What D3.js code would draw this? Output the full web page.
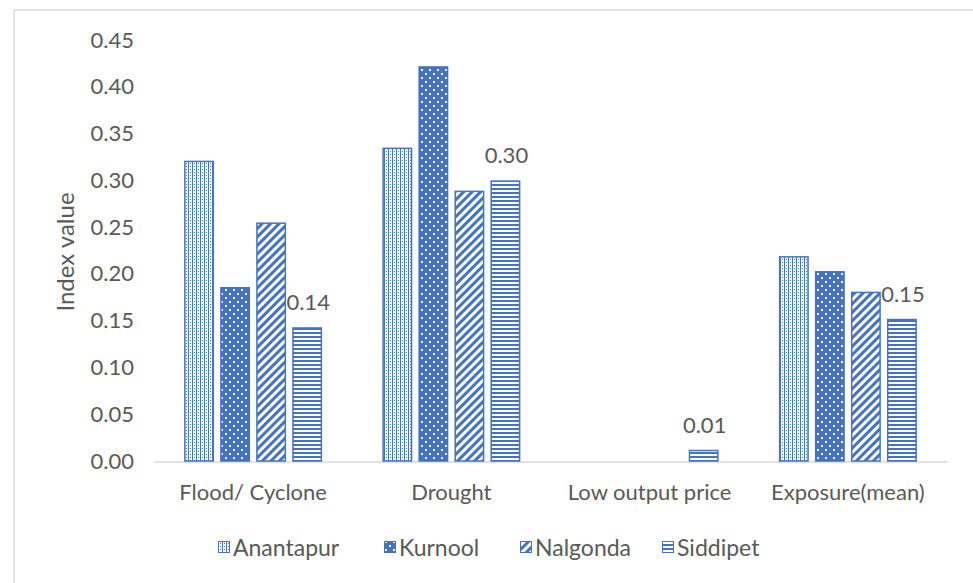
<!DOCTYPE html>
<html>
<head>
<meta charset="utf-8">
<script src="https://cdn.jsdelivr.net/npm/d3@7"></script>
<style>
  html, body { margin: 0; padding: 0; background: #fff; }
  svg { display: block; font-family: Lato, "Open Sans", sans-serif; }
</style>
</head>
<body>
<div id="chart"></div>
<script>
const categories = ["Flood/ Cyclone", "Drought", "Low output price", "Exposure(mean)"];
const seriesNames = ["Anantapur", "Kurnool", "Nalgonda", "Siddipet"];
const anantapur = [0.321, 0.335, 0, 0.219];
const kurnool   = [0.186, 0.422, 0, 0.203];
const nalgonda  = [0.255, 0.289, 0, 0.181];
const siddipet  = [0.143, 0.300, 0.012, 0.152];
const yTicks = [0, 0.05, 0.10, 0.15, 0.20, 0.25, 0.30, 0.35, 0.40, 0.45];
const labelledSeries = "Siddipet";

const seriesValues = [anantapur, kurnool, nalgonda, siddipet];
const W = 973, H = 583;
const blue = "#4472C4";
const textColor = "#595959";
const fontFam = "Lato, 'Open Sans', sans-serif";

const svg = d3.select("#chart").append("svg").attr("width", W).attr("height", H);

// outer chart border
svg.append("rect").attr("x", 14).attr("y", 10).attr("width", 970).attr("height", 600)
  .attr("fill", "none").attr("stroke", "#d9d9d9").attr("stroke-width", 1.5);

const defs = svg.append("defs");
// Anantapur: dotted grid (light)
const p0 = defs.append("pattern").attr("id", "pat0").attr("patternUnits", "userSpaceOnUse")
  .attr("width", 4).attr("height", 3);
p0.append("rect").attr("width", 4).attr("height", 3).attr("fill", "#fff");
p0.append("rect").attr("x", 0).attr("y", 0).attr("width", 1).attr("height", 3).attr("fill", blue);
p0.append("rect").attr("x", 2).attr("y", 1).attr("width", 1).attr("height", 1).attr("fill", blue);
// Kurnool: blue with white dots
const p1 = defs.append("pattern").attr("id", "pat1").attr("patternUnits", "userSpaceOnUse")
  .attr("width", 8).attr("height", 8);
p1.append("rect").attr("width", 8).attr("height", 8).attr("fill", blue);
p1.append("rect").attr("x", 1).attr("y", 1).attr("width", 2).attr("height", 2).attr("fill", "#fff");
p1.append("rect").attr("x", 5).attr("y", 5).attr("width", 2).attr("height", 2).attr("fill", "#fff");
// Nalgonda: wide upward diagonal
const p2 = defs.append("pattern").attr("id", "pat2").attr("patternUnits", "userSpaceOnUse")
  .attr("width", 6).attr("height", 6).attr("patternTransform", "rotate(45)");
p2.append("rect").attr("width", 6).attr("height", 6).attr("fill", "#fff");
p2.append("rect").attr("x", 0).attr("y", 0).attr("width", 3).attr("height", 6).attr("fill", blue);
// Siddipet: horizontal lines
const p3 = defs.append("pattern").attr("id", "pat3").attr("patternUnits", "userSpaceOnUse")
  .attr("width", 4).attr("height", 4);
p3.append("rect").attr("width", 4).attr("height", 4).attr("fill", "#fff");
p3.append("rect").attr("x", 0).attr("y", 0).attr("width", 4).attr("height", 2).attr("fill", blue);

const x0 = d3.scaleBand().domain(categories).range([154, 947]).paddingInner(0.304).paddingOuter(0.152);
const x1 = d3.scaleBand().domain(seriesNames).range([0, x0.bandwidth()]).paddingInner(0.17);
const y = d3.scaleLinear().domain([0, 0.45]).range([461, 40]);

// y axis labels
const yAxis = d3.axisLeft(y).tickValues(yTicks).tickFormat(d3.format(".2f")).tickSize(0).tickPadding(0);
const yg = svg.append("g").attr("transform", "translate(134,0)").call(yAxis);
yg.select(".domain").remove();
yg.selectAll("text").attr("fill", textColor).attr("font-size", 22).attr("font-family", fontFam);

// baseline / x axis
const xAxis = d3.axisBottom(x0).tickSize(0).tickPadding(0);
const xg = svg.append("g").attr("transform", "translate(0,461.5)").call(xAxis);
xg.select(".domain").attr("stroke", "#d9d9d9").attr("stroke-width", 1.5);
xg.selectAll("text").attr("fill", textColor).attr("font-size", 22)
  .attr("font-family", fontFam).attr("dy", 0).attr("y", 38.5);

// bars
seriesNames.forEach((s, si) => {
  const vals = seriesValues[si];
  const g = svg.append("g");
  g.selectAll("rect").data(categories.map((c, i) => ({c, v: vals[i]})).filter(d => d.v > 0))
    .enter().append("rect")
    .attr("x", d => x0(d.c) + x1(s) + 0.75)
    .attr("y", d => y(d.v) + 0.75)
    .attr("width", x1.bandwidth() - 1.5)
    .attr("height", d => Math.max(0, y(0) - y(d.v) - 0.75))
    .attr("fill", `url(#pat${si})`)
    .attr("stroke", blue).attr("stroke-width", 1.5);
  if (s === labelledSeries) {
    g.selectAll("text").data(categories.map((c, i) => ({c, v: vals[i]})))
      .enter().append("text")
      .attr("x", d => x0(d.c) + x1(s) + x1.bandwidth() / 2 + 1)
      .attr("y", d => y(d.v) - 17)
      .attr("text-anchor", "middle")
      .attr("fill", textColor).attr("font-size", 22)
      .text(d => d3.format(".2f")(d.v));
  }
});

// y title
svg.append("text")
  .attr("transform", "translate(74,252) rotate(-90)")
  .attr("text-anchor", "middle")
  .attr("fill", textColor).attr("font-size", 24)
  .text("Index value");

// legend
const legendX = [218, 384, 520, 662];
const lg = svg.append("g");
seriesNames.forEach((s, i) => {
  const item = lg.append("g").attr("transform", `translate(${legendX[i]},548)`);
  item.append("rect").attr("x", 0.5).attr("y", -6.5).attr("width", 11).attr("height", 11)
    .attr("fill", `url(#pat${i})`).attr("stroke", blue).attr("stroke-width", 1);
  item.append("text").attr("x", 15).attr("y", 7.5).attr("fill", textColor).attr("font-size", 23).text(s);
});
</script>
</body>
</html>
